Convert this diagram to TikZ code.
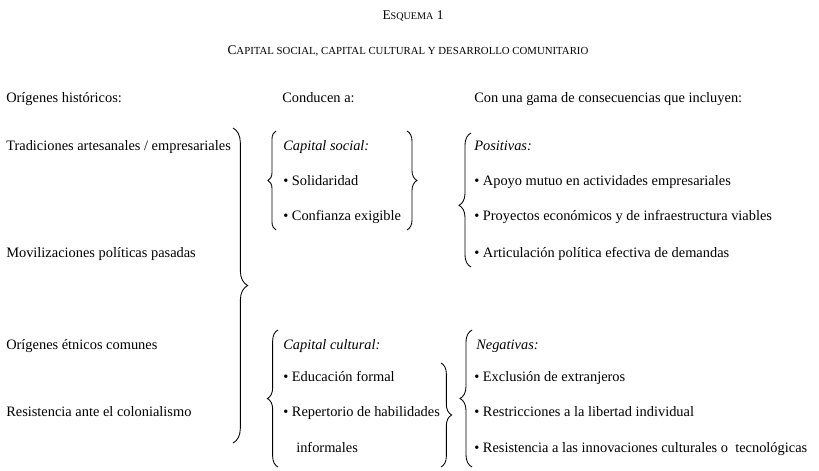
\documentclass[tikz,border=0pt]{standalone}
\usepackage{fontspec}
\setmainfont{Liberation Serif}
\usetikzlibrary{decorations.pathreplacing}
\newcommand{\bodyfont}{\fontsize{10.8}{13}\selectfont}
\newcommand{\scfont}{\fontsize{7.6}{9}\selectfont}
\newcommand{\sctitle}{\fontsize{8.1}{9}\selectfont}
\begin{document}
\begin{tikzpicture}[x=0.75pt,y=-0.75pt,
  txt/.style={anchor=base west,inner sep=0pt,font=\bodyfont},
  itx/.style={txt,font=\bodyfont\itshape},
  ttl/.style={anchor=base,inner sep=0pt,font=\fontsize{10}{12}\selectfont},
  brc/.style={decorate,decoration={brace,amplitude=#1},line width=0.65pt},
]
\useasboundingbox (0,0) rectangle (819,471);
% titles
\node[ttl] (esq) at (413,19) {E{\scfont SQUEMA} 1};
\node[ttl] (title) at (408,55) {C{\sctitle APITAL SOCIAL, CAPITAL CULTURAL Y DESARROLLO COMUNITARIO}};
% headings
\node[txt] (h1) at (6,102) {Orígenes históricos:};
\node[txt] (h2) at (282,102) {Conducen a:};
\node[txt] (h3) at (474,102) {Con una gama de consecuencias que incluyen:};
% left column
\node[txt] (o1) at (6,150) {Tradiciones artesanales / empresariales};
\node[txt] (o2) at (6,257) {Movilizaciones políticas pasadas};
\node[txt] (o3) at (6,349) {Orígenes étnicos comunes};
\node[txt] (o4) at (6,416) {Resistencia ante el colonialismo};
% capital social
\node[itx] (cs) at (283,150) {Capital social:};
\node[txt] (cs1) at (283,185) {• Solidaridad};
\node[txt] (cs2) at (283,220) {• Confianza exigible};
% capital cultural
\node[itx] (cc) at (283,349) {Capital cultural:};
\node[txt] (cc1) at (283,381) {• Educación formal};
\node[txt] (cc2) at (283,416) {• Repertorio de habilidades};
\node[txt] (cc3) at (296,452) {informales};
% positivas
\node[itx] (p) at (474,150) {Positivas:};
\node[txt] (p1) at (474,185) {• Apoyo mutuo en actividades empresariales};
\node[txt] (p2) at (474,220) {• Proyectos económicos y de infraestructura viables};
\node[txt] (p3) at (474,257) {• Articulación política efectiva de demandas};
% negativas
\node[itx] (n) at (476,349) {Negativas:};
\node[txt] (n1) at (474,381) {• Exclusión de extranjeros};
\node[txt] (n2) at (474,416) {• Restricciones a la libertad individual};
\node[txt] (n3) at (474,452) {• Resistencia a las innovaciones culturales o\ \ tecnológicas};
% brace end points
\coordinate (bigT) at (233,128);
\coordinate (bigB) at (233,443);
\coordinate (csLT) at (276,131);
\coordinate (csLB) at (276,230);
\coordinate (csRT) at (407,131);
\coordinate (csRB) at (407,230);
\coordinate (pT) at (471,133);
\coordinate (pB) at (471,267);
\coordinate (ccLT) at (278,330);
\coordinate (ccLB) at (278,467);
\coordinate (ccRT) at (441,363);
\coordinate (ccRB) at (441,467);
\coordinate (nT) at (472,330);
\coordinate (nB) at (472,467);
% braces
\draw[brc=11pt] (bigT) -- (bigB);
\draw[brc=6pt] (csLB) -- (csLT);
\draw[brc=7.5pt] (csRT) -- (csRB);
\draw[brc=9pt,decoration={aspect=0.46}] (pB) -- (pT);
\draw[brc=8pt] (ccLB) -- (ccLT);
\draw[brc=8pt] (ccRT) -- (ccRB);
\draw[brc=9pt] (nB) -- (nT);
\end{tikzpicture}
\end{document}
